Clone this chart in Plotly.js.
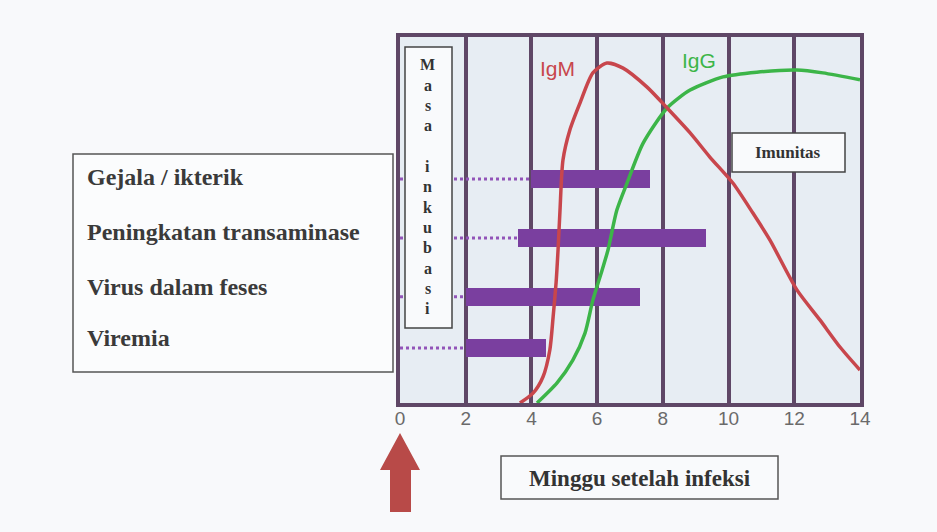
<!DOCTYPE html>
<html>
<head>
<meta charset="utf-8">
<script src="https://cdn.plot.ly/plotly-3.0.1.min.js"></script>
<style>html,body{margin:0;padding:0;background:#f8f9fb;}</style>
</head>
<body>
<div id="chart" style="width:937px;height:532px;"></div>
<script>
// ---- data ----
const categories = ['Gejala / ikterik', 'Peningkatan transaminase', 'Virus dalam feses', 'Viremia'];
const barStart = [4.0, 3.6, 2.0, 2.0];
const barEnd   = [7.6, 9.3, 7.3, 4.45];
const weekTicks = [0, 2, 4, 6, 8, 10, 12, 14];

const igmWeeks = [3.65, 4.05, 4.35, 4.56, 4.66, 4.75, 4.81, 4.87, 4.96, 5.17, 5.48, 5.87, 6.30, 6.79, 7.52, 8.13, 8.83, 9.43, 10.13, 10.74, 11.26, 12.08, 12.78, 13.39, 14.0];
const igmLevel = [0, 2.7, 7.1, 14.5, 23.5, 32.8, 41.8, 52.7, 66.4, 74.6, 82.0, 90.2, 92.9, 91.5, 86.3, 80.6, 73.8, 67.2, 60.1, 51.9, 44.5, 30.9, 22.7, 15.3, 9.0];
const iggWeeks = [4.17, 4.78, 5.26, 5.63, 5.87, 6.15, 6.33, 6.60, 6.91, 7.40, 8.13, 8.83, 9.83, 10.86, 12.08, 12.87, 14.0];
const iggLevel = [0, 5.5, 11.7, 19.1, 28.1, 36.3, 41.8, 52.7, 60.1, 71.0, 80.6, 85.5, 89.1, 90.4, 91.0, 90.2, 88.3];

const incubationText = 'Masa inkubasi';
const immunityText = 'Imunitas';
const xTitleText = 'Minggu setelah infeksi';

// ---- layout helpers (row positions, pixel -> paper) ----
const rowPos = [61.2, 45.1, 29.0, 15.0];
const L = 400, R = 860, T = 37, B = 403;
const px = x => (x - L) / (R - L);
const py = y => (B - y) / (B - T);

const purple = '#7a3f9f';
const serif = '"Liberation Serif", "Times New Roman", serif';
const sans = '"Liberation Sans", Arial, sans-serif';

// dotted leaders
const dotX = [], dotY = [];
for (let i = 0; i < categories.length; i++) {
  dotX.push(0, barStart[i], null);
  dotY.push(rowPos[i], rowPos[i], null);
}

const traces = [
  {
    type: 'scatter', mode: 'lines', x: dotX, y: dotY,
    line: {color: '#9254b8', width: 3, dash: 'dot'}, hoverinfo: 'skip', showlegend: false
  },
  {
    type: 'bar', orientation: 'h', y: rowPos,
    x: barEnd.map((e, i) => e - barStart[i]), base: barStart,
    width: 4.9, marker: {color: purple, line: {width: 0}},
    text: categories, textposition: 'none', showlegend: false
  },
  {
    type: 'scatter', mode: 'lines', x: iggWeeks, y: iggLevel, name: 'IgG',
    line: {color: '#3cb548', width: 3.5, shape: 'spline', smoothing: 0.7}, showlegend: false
  },
  {
    type: 'scatter', mode: 'lines', x: igmWeeks, y: igmLevel, name: 'IgM',
    line: {color: '#c8464c', width: 3.5, shape: 'spline', smoothing: 0.7}, showlegend: false
  }
];

const annotations = [];
// left labels
const labelY = [177, 232, 287, 338];
categories.forEach((c, i) => annotations.push({
  xref: 'paper', yref: 'paper', x: px(85), y: py(labelY[i]), xanchor: 'left', yanchor: 'middle',
  text: '<b>' + c + '</b>', showarrow: false, font: {family: serif, size: 24, color: '#3a3a3a'}
}));
// Masa inkubasi vertical letters
incubationText.split('').forEach((ch, k) => {
  if (ch === ' ') return;
  annotations.push({
    xref: 'x', yref: 'paper', x: 0.85, y: py(65 + k * 20.3), xanchor: 'center', yanchor: 'middle',
    text: '<b>' + ch + '</b>', showarrow: false, font: {family: serif, size: 16, color: '#333'}
  });
});
annotations.push(
  {xref: 'x', yref: 'y', x: 11.82, y: 68.4, xanchor: 'center', yanchor: 'middle',
   text: '<b>' + immunityText + '</b>', showarrow: false,
   font: {family: serif, size: 17, color: '#333'}},
  {xref: 'x', yref: 'y', x: 4.78, y: 91.3, xanchor: 'center', yanchor: 'middle', text: 'IgM', showarrow: false,
   font: {family: sans, size: 21, color: '#c8464c'}},
  {xref: 'x', yref: 'y', x: 9.1, y: 93.5, xanchor: 'center', yanchor: 'middle', text: 'IgG', showarrow: false,
   font: {family: sans, size: 21, color: '#3cb548'}},
  {xref: 'paper', yref: 'paper', x: px(640), y: py(478), xanchor: 'center', yanchor: 'middle',
   text: '<b>' + xTitleText + '</b>', showarrow: false,
   font: {family: serif, size: 23, color: '#333'}}
);

const arrowPath = 'M ' + [[400,433],[420,470],[411,470],[411,512],[390,512],[390,470],[380,470]]
  .map(p => px(p[0]) + ',' + py(p[1])).join(' L ') + ' Z';

const shapes = [
  // left label box
  {type: 'rect', xref: 'paper', yref: 'paper', x0: px(73), x1: px(393), y0: py(154), y1: py(372),
   line: {color: '#555', width: 1.5}, fillcolor: '#fbfcfd', layer: 'below'},
  // Masa inkubasi box
  {type: 'rect', xref: 'paper', yref: 'paper', x0: px(405), x1: px(452), y0: py(47), y1: py(328),
   line: {color: '#444', width: 1.5}, fillcolor: '#f9fafc', layer: 'above'},
  // Imunitas box
  {type: 'rect', xref: 'paper', yref: 'paper', x0: px(732), x1: px(845), y0: py(133), y1: py(172),
   line: {color: '#444', width: 1.5}, fillcolor: '#f9fafc', layer: 'above'},
  // x title box
  {type: 'rect', xref: 'paper', yref: 'paper', x0: px(501), x1: px(778), y0: py(456), y1: py(499),
   line: {color: '#555', width: 1.5}, fillcolor: '#f9fafc', layer: 'below'},
  // red arrow
  {type: 'path', xref: 'paper', yref: 'paper', path: arrowPath, fillcolor: '#b84a48', line: {width: 0}}
];

const layout = {
  width: 937, height: 532,
  margin: {l: L, r: 937 - R, t: T, b: 532 - B, pad: 0},
  paper_bgcolor: '#f8f9fb', plot_bgcolor: '#e7edf3',
  showlegend: false,
  xaxis: {
    range: [0, 14], tickvals: weekTicks, ticktext: weekTicks.map(String),
    showgrid: true, gridcolor: '#5f4766', gridwidth: 4, zeroline: false,
    showline: true, linecolor: '#5f4766', linewidth: 4, mirror: true,
    ticks: '', ticklabelstandoff: -5,
    tickfont: {family: sans, size: 19, color: '#6a6a6a'}, fixedrange: true
  },
  yaxis: {
    range: [0, 100], showgrid: false, zeroline: false, showticklabels: false, ticks: '',
    showline: true, linecolor: '#5f4766', linewidth: 4, mirror: true, fixedrange: true
  },
  annotations: annotations,
  shapes: shapes,
  bargap: 0
};

Plotly.newPlot('chart', traces, layout, {displayModeBar: false, staticPlot: true});
</script>
</body>
</html>
